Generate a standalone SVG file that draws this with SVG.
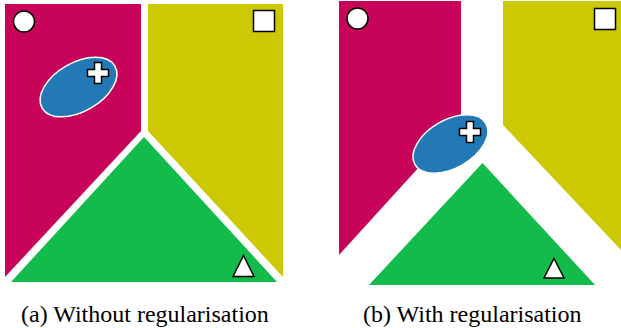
<svg xmlns="http://www.w3.org/2000/svg" width="621" height="328" viewBox="0 0 621 328">
<style>
.mag{fill:#c70459}
.yel{fill:#ccc803}
.grn{fill:#12bb4a}
.ell{fill:#2379b5;stroke:#ffffff;stroke-width:1.5}
.mk{fill:#ffffff;stroke:#000000;stroke-width:1.5}
.cap{font-family:"Liberation Serif","Times New Roman",serif;font-size:24px;fill:#000000}
</style>
<rect width="621" height="328" fill="#ffffff"/>
<g id="panel-a">
  <g id="a-magenta"><polygon class="mag" points="5,4 141,4 141,131 5,277"/><circle class="mk" cx="24" cy="21.5" r="10.5"/></g>
  <g id="a-yellow"><polygon class="yel" points="148,4 283,4 283,277 148,131"/><rect class="mk" x="253.5" y="10.5" width="21" height="21"/></g>
  <g id="a-green"><polygon class="grn" points="144,137 277,282 11,282"/><polygon class="mk" points="243.5,255.5 254,276.5 233,276.5"/></g>
  <g id="a-blue"><ellipse class="ell" cx="78.5" cy="87" rx="42" ry="24.5" transform="rotate(-30 78.5 87)"/>
    <path class="mk" d="M94.5,62.5h7v7h7v7h-7v7h-7v-7h-7v-7h7z"/></g>
</g>
<g id="panel-b">
  <g id="b-magenta"><polygon class="mag" points="339,1 461,1 461,121 339,255"/><circle class="mk" cx="357.5" cy="18.5" r="10.5"/></g>
  <g id="b-yellow"><polygon class="yel" points="503,1 621,1 621,250 503,125"/><rect class="mk" x="594.5" y="8.5" width="21" height="21"/></g>
  <g id="b-green"><polygon class="grn" points="482.5,163 595,285 369,285"/><polygon class="mk" points="554,258.5 564,278 544,278"/></g>
  <g id="b-blue"><ellipse class="ell" cx="450.5" cy="144" rx="41" ry="24" transform="rotate(-30 450.5 144)"/>
    <path class="mk" d="M466.5,121.5h7v7h7v7h-7v7h-7v-7h-7v-7h7z"/></g>
</g>
<g id="connectors"></g>
<text class="cap" x="21" y="322">(a) Without regularisation</text>
<text class="cap" x="363" y="322">(b) With regularisation</text>
</svg>
